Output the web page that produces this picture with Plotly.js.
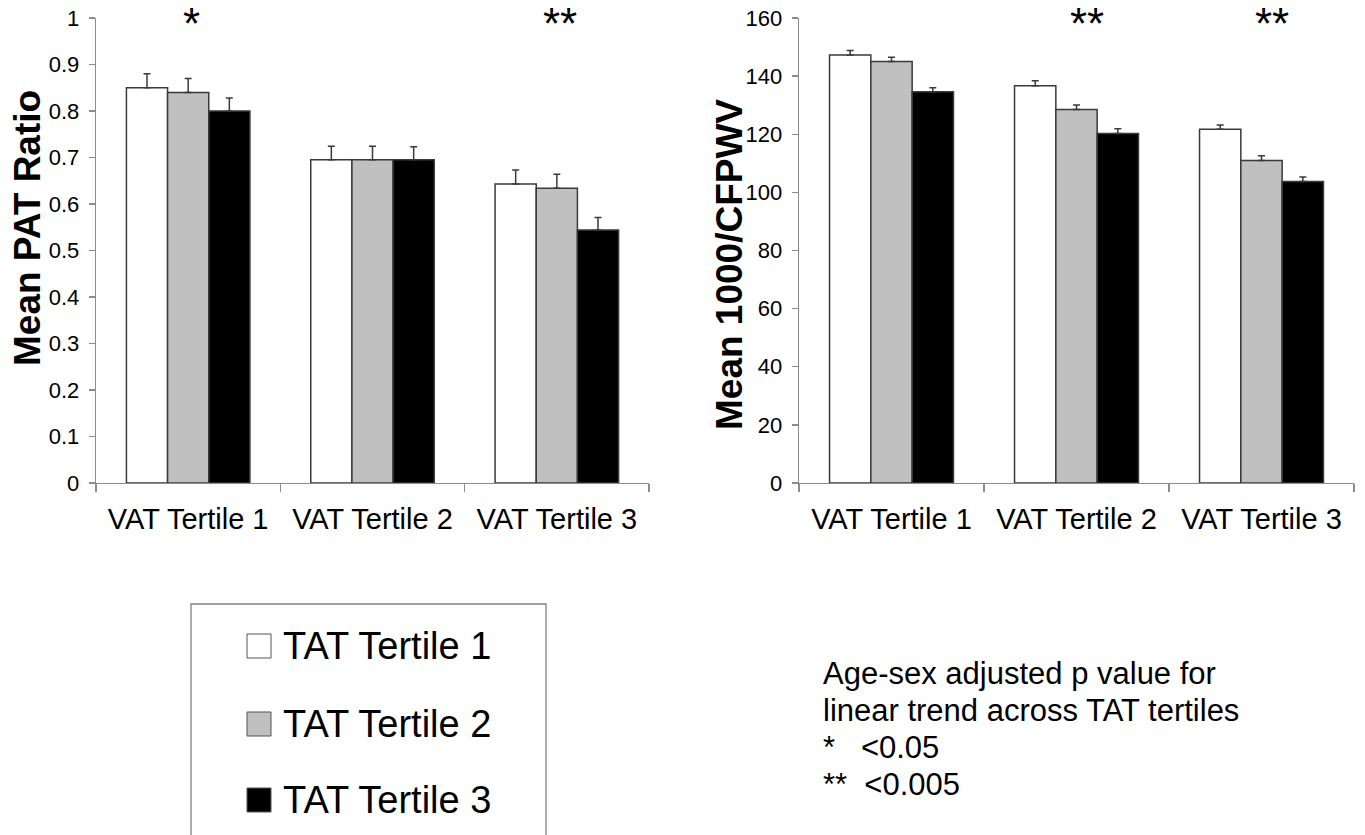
<!DOCTYPE html>
<html>
<head>
<meta charset="utf-8">
<script src="https://cdn.plot.ly/plotly-3.0.1.min.js"></script>
<style>html,body{margin:0;padding:0;background:#fff;}#chart{width:1365px;height:835px;}</style>
</head>
<body>
<div id="chart"></div>
<script>
// ---- data ----
const categories = ["VAT Tertile 1", "VAT Tertile 2", "VAT Tertile 3"];
const seriesNames = ["TAT Tertile 1", "TAT Tertile 2", "TAT Tertile 3"];

const patT1 = [0.85, 0.695, 0.643];
const patT2 = [0.84, 0.695, 0.634];
const patT3 = [0.80, 0.695, 0.544];
const patErr1 = [0.03, 0.029, 0.03];
const patErr2 = [0.03, 0.029, 0.03];
const patErr3 = [0.028, 0.028, 0.027];

const pwvT1 = [147.3, 136.7, 121.7];
const pwvT2 = [145.0, 128.5, 111.0];
const pwvT3 = [134.6, 120.3, 103.7];
const pwvErr1 = [1.5, 1.7, 1.5];
const pwvErr2 = [1.5, 1.6, 1.6];
const pwvErr3 = [1.4, 1.6, 1.6];

const patTitle = "Mean PAT Ratio";
const pwvTitle = "Mean 1000/CFPWV";
const patStars = ["*", "", "**"];
const pwvStars = ["", "**", "**"];

const noteLines = [
  "Age-sex adjusted p value for",
  "linear trend across TAT tertiles",
  "*   <0.05",
  "**  <0.005"
];

// ---- styling ----
const FONT = "Liberation Sans, Arial, sans-serif";
const fills = ["#ffffff", "#c0c0c0", "#000000"];
const outline = "#3a3a3a";
const axisGray = "#8c8c8c";

function barTrace(y, err, i, xa, ya) {
  return {
    type: "bar", x: categories, y: y, name: seriesNames[i],
    xaxis: xa, yaxis: ya, showlegend: false,
    marker: {color: fills[i], line: {color: outline, width: 1.5}},
    error_y: {type: "data", symmetric: false, array: err, arrayminus: err.map(() => 0),
              color: "#3a3a3a", thickness: 1.5, width: 3.5},
    hoverinfo: "x+y"
  };
}

const data = [
  barTrace(patT1, patErr1, 0, "x", "y"),
  barTrace(patT2, patErr2, 1, "x", "y"),
  barTrace(patT3, patErr3, 2, "x", "y"),
  barTrace(pwvT1, pwvErr1, 0, "x2", "y2"),
  barTrace(pwvT2, pwvErr2, 1, "x2", "y2"),
  barTrace(pwvT3, pwvErr3, 2, "x2", "y2")
];

const W = 1365, H = 835;
const px = v => v / W;
const py = v => 1 - v / H;

function xAxis(dom, anchor) {
  return {
    domain: dom, anchor: anchor, type: "category", range: [-0.5, 2.5],
    showline: true, linecolor: axisGray, linewidth: 1.3,
    ticks: "outside", tickson: "boundaries", ticklen: 8, tickcolor: axisGray, tickwidth: 1.3,
    showgrid: false, zeroline: false,
    tickfont: {family: FONT, size: 29, color: "#000"}, ticklabelstandoff: 10,
    fixedrange: true
  };
}
function yAxis(range, dtick, anchor) {
  return {
    domain: [py(483), py(18)], anchor: anchor, range: range, dtick: dtick,
    showline: true, linecolor: axisGray, linewidth: 1.3,
    ticks: "outside", ticklen: 6, tickcolor: axisGray, tickwidth: 1.3,
    showgrid: false, zeroline: false,
    tickfont: {family: FONT, size: 22, color: "#000"}, ticklabelstandoff: 5,
    fixedrange: true
  };
}

const annotations = [];
// y-axis titles
annotations.push({xref: "paper", yref: "paper", x: px(27), y: py(228), textangle: -90,
  text: patTitle, showarrow: false, xanchor: "center", yanchor: "middle",
  font: {family: FONT, size: 37, color: "#000", weight: "bold"}});
annotations.push({xref: "paper", yref: "paper", x: px(730), y: py(265), textangle: -90,
  text: pwvTitle, showarrow: false, xanchor: "center", yanchor: "middle",
  font: {family: FONT, size: 37, color: "#000", weight: "bold"}});

patStars.forEach((s, i) => {
  if (s) annotations.push({xref: "x", yref: "paper", x: categories[i], y: py(20),
    text: s, showarrow: false, xshift: 3, yanchor: "middle", yshift: -4,
    font: {family: FONT, size: 44, color: "#000"}});
});
pwvStars.forEach((s, i) => {
  if (s) annotations.push({xref: "x2", yref: "paper", x: categories[i], y: py(20),
    text: s, showarrow: false, xshift: 10, yanchor: "middle", yshift: -4,
    font: {family: FONT, size: 44, color: "#000"}});
});

// legend (drawn as layout items)
const legendY = [646, 724, 800];
const shapes = [
  {type: "rect", xref: "paper", yref: "paper", x0: px(191), x1: px(546), y0: py(604), y1: py(850),
   line: {color: "#808080", width: 1.3}, fillcolor: "rgba(0,0,0,0)"}
];
seriesNames.forEach((n, i) => {
  shapes.push({type: "rect", xref: "paper", yref: "paper",
    x0: px(247), x1: px(271), y0: py(legendY[i] + 12), y1: py(legendY[i] - 12),
    line: {color: "#555", width: 1}, fillcolor: fills[i]});
  annotations.push({xref: "paper", yref: "paper", x: px(281), y: py(legendY[i]),
    xanchor: "left", yanchor: "middle", text: n, showarrow: false,
    font: {family: FONT, size: 38, color: "#000"}});
});

// note
const noteY = [673, 710, 747, 784];
noteLines.forEach((t, i) => {
  annotations.push({xref: "paper", yref: "paper", x: px(821), y: py(noteY[i]),
    xanchor: "left", yanchor: "middle", align: "left", showarrow: false,
    text: t, font: {family: FONT, size: 31, color: "#000"}});
});

const layout = {
  width: W, height: H, autosize: false,
  margin: {l: 0, r: 0, t: 0, b: 0},
  paper_bgcolor: "#fff", plot_bgcolor: "#fff",
  barmode: "group", bargap: 0.33, bargroupgap: 0,
  showlegend: false,
  xaxis: xAxis([px(96), px(649)], "y"),
  yaxis: yAxis([0, 1], 0.1, "x"),
  xaxis2: xAxis([px(799), px(1354)], "y2"),
  yaxis2: yAxis([0, 160], 20, "x2"),
  annotations: annotations,
  shapes: shapes,
  font: {family: FONT}
};

Plotly.newPlot("chart", data, layout, {displayModeBar: false, staticPlot: true});
</script>
</body>
</html>
